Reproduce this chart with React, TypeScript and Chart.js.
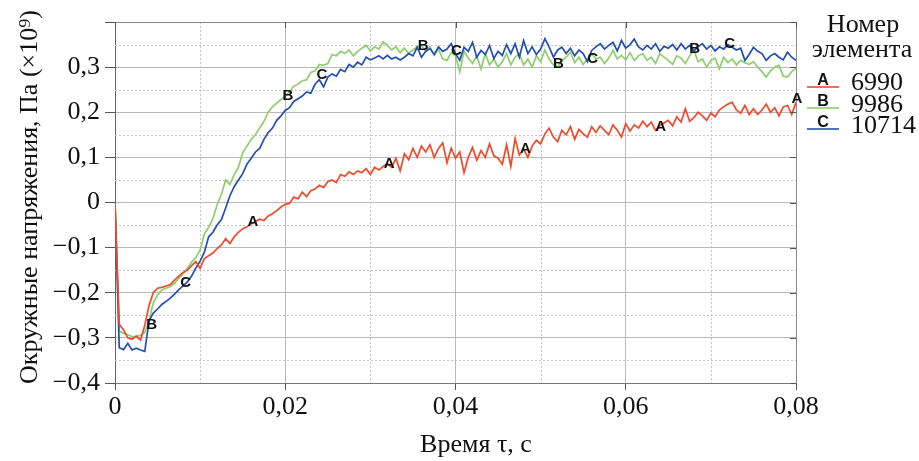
import { useEffect, useRef } from "react";
import { Chart, registerables } from "chart.js";

Chart.register(...registerables);

// ---- data ----
const TIME_STEP = 0.0005; // s, sampling step of the series below (t = 0 ... 0.08)

const ELEMENTS = ["6990", "9986", "10714"];
const LETTERS = ["A", "B", "C"];
const COLORS = ["#ef4a2c", "#8ccf6c", "#2350b0"];

const STRESS_6990 = [
  0, -0.27, -0.282, -0.3, -0.303, -0.296, -0.305, -0.272, -0.228, -0.2,
  -0.19, -0.188, -0.185, -0.182, -0.172, -0.163, -0.155, -0.15, -0.14, -0.131,
  -0.146, -0.124, -0.118, -0.112, -0.102, -0.094, -0.08, -0.091, -0.076, -0.066,
  -0.058, -0.054, -0.047, -0.042, -0.037, -0.04, -0.03, -0.025, -0.018, -0.01,
  -0.004, -0.002, 0.012, 0.008, 0.023, 0.013, 0.026, 0.03, 0.038, 0.033,
  0.046, 0.05, 0.044, 0.062, 0.058, 0.068, 0.062, 0.07, 0.066, 0.075,
  0.062, 0.078, 0.072, 0.08, 0.086, 0.078, 0.098, 0.07, 0.108, 0.095,
  0.12, 0.1, 0.125, 0.112, 0.128, 0.1, 0.12, 0.132, 0.088, 0.12,
  0.098, 0.112, 0.066, 0.1, 0.122, 0.094, 0.115, 0.1, 0.13, 0.104,
  0.098, 0.085, 0.128, 0.08, 0.142, 0.105, 0.118, 0.1, 0.125, 0.138,
  0.13, 0.152, 0.165, 0.145, 0.135, 0.16, 0.15, 0.168, 0.14, 0.162,
  0.152, 0.145, 0.168, 0.155, 0.17, 0.16, 0.15, 0.172, 0.16, 0.145,
  0.175, 0.158, 0.172, 0.165, 0.18, 0.168, 0.178, 0.16, 0.17, 0.176,
  0.182, 0.17, 0.19, 0.178, 0.208, 0.18, 0.188, 0.2, 0.192, 0.182,
  0.198, 0.19, 0.205, 0.212, 0.218, 0.222, 0.205, 0.198, 0.215, 0.195,
  0.208, 0.195, 0.205, 0.218, 0.2, 0.21, 0.192, 0.212, 0.215, 0.195,
  0.222,
];

const STRESS_9986 = [
  0, -0.285, -0.29, -0.293, -0.297, -0.297, -0.294, -0.288, -0.262, -0.222,
  -0.205, -0.194, -0.19, -0.186, -0.179, -0.168, -0.158, -0.146, -0.132, -0.122,
  -0.105, -0.07, -0.055, -0.036, -0.005, 0.018, 0.05, 0.04, 0.062, 0.078,
  0.11, 0.125, 0.14, 0.15, 0.165, 0.18, 0.2, 0.212, 0.22, 0.228,
  0.236, 0.245, 0.258, 0.262, 0.27, 0.272, 0.288, 0.292, 0.306, 0.304,
  0.308, 0.328, 0.325, 0.335, 0.33, 0.338, 0.325, 0.335, 0.342, 0.348,
  0.336, 0.345, 0.34, 0.356, 0.348, 0.338, 0.345, 0.332, 0.342, 0.33,
  0.338, 0.345, 0.348, 0.335, 0.345, 0.326, 0.34, 0.318, 0.315, 0.332,
  0.325, 0.29, 0.335, 0.32, 0.308, 0.325, 0.296, 0.33, 0.305, 0.318,
  0.3, 0.312, 0.33, 0.305, 0.322, 0.33, 0.305, 0.318, 0.3, 0.325,
  0.312, 0.338, 0.318, 0.305, 0.3, 0.315, 0.322, 0.333, 0.31, 0.322,
  0.306, 0.318, 0.33, 0.318, 0.322, 0.308, 0.32, 0.337, 0.318, 0.326,
  0.316, 0.332, 0.315, 0.325, 0.33, 0.315, 0.322, 0.308, 0.33, 0.322,
  0.315, 0.306, 0.325, 0.32, 0.308, 0.325, 0.338, 0.312, 0.318, 0.3,
  0.315, 0.32, 0.296, 0.322, 0.31, 0.318, 0.305, 0.315, 0.31, 0.306,
  0.312, 0.3, 0.29, 0.278, 0.292, 0.3, 0.304, 0.28, 0.278, 0.29,
  0.298,
];

const STRESS_10714 = [
  0, -0.322, -0.326, -0.312, -0.327, -0.323, -0.327, -0.33, -0.262, -0.245,
  -0.236, -0.226, -0.219, -0.212, -0.203, -0.193, -0.185, -0.176, -0.163, -0.145,
  -0.13, -0.11, -0.076, -0.066, -0.05, -0.038, -0.012, 0.015, 0.035, 0.05,
  0.064, 0.085, 0.098, 0.112, 0.12, 0.14, 0.155, 0.165, 0.182, 0.192,
  0.204, 0.21, 0.224, 0.23, 0.236, 0.245, 0.242, 0.262, 0.272, 0.256,
  0.278, 0.285, 0.28, 0.295, 0.29, 0.306, 0.3, 0.311, 0.305, 0.322,
  0.316, 0.32, 0.325, 0.318, 0.326, 0.318, 0.322, 0.316, 0.322, 0.33,
  0.325, 0.344, 0.322, 0.335, 0.341, 0.328, 0.345, 0.335, 0.34, 0.352,
  0.33, 0.315, 0.344, 0.335, 0.355, 0.322, 0.337, 0.328, 0.348, 0.319,
  0.335, 0.326, 0.35, 0.33, 0.352, 0.322, 0.359, 0.33, 0.345, 0.328,
  0.34, 0.363, 0.345, 0.322, 0.338, 0.344, 0.33, 0.342, 0.325, 0.338,
  0.33, 0.312, 0.337, 0.345, 0.352, 0.34, 0.348, 0.355, 0.336, 0.359,
  0.342, 0.35, 0.362, 0.345, 0.338, 0.348, 0.34, 0.352, 0.335, 0.346,
  0.342, 0.35, 0.338, 0.352, 0.34, 0.348, 0.336, 0.345, 0.352, 0.34,
  0.348, 0.336, 0.345, 0.34, 0.35, 0.344, 0.338, 0.342, 0.315, 0.328,
  0.344, 0.335, 0.33, 0.315, 0.325, 0.33, 0.322, 0.316, 0.333, 0.322,
  0.315,
];

// letter markers on the curves (time, value)
const MARK_A_T = [0.0162, 0.0322, 0.0482, 0.0641, 0.0801];
const MARK_A_V = [-0.043, 0.086, 0.119, 0.167, 0.23];
const MARK_B_T = [0.0043, 0.0203, 0.0362, 0.0521, 0.0681];
const MARK_B_V = [-0.271, 0.237, 0.348, 0.307, 0.341];
const MARK_C_T = [0.0083, 0.0243, 0.0401, 0.0561, 0.0722];
const MARK_C_V = [-0.178, 0.282, 0.337, 0.319, 0.352];

const X_MIN = 0;
const X_MAX = 0.08;
const X_MAJOR_STEP = 0.02;
const X_MINOR = [0.01, 0.03, 0.05, 0.07];
const Y_MIN = -0.4;
const Y_MAX = 0.4;
const Y_MAJOR_STEP = 0.1;
const Y_MINOR = [-0.35, -0.25, -0.15, -0.05, 0.05, 0.15, 0.25, 0.35];

const X_TITLE = "Время τ, с";
const Y_TITLE = "Окружные напряжения, Па (×10⁹)";
const LEGEND_TITLE = ["Номер", "элемента"];

const SERIF = '"Liberation Serif", "Times New Roman", "DejaVu Serif", serif';
const SANS = '"Liberation Sans", Arial, "DejaVu Sans", sans-serif';

const fmt = (v: number, digits: number) => {
  if (Math.abs(v) < 1e-9) return "0";
  const s = Math.abs(v).toFixed(digits).replace(".", ",");
  return v < 0 ? "\u2212" + s : s;
};

const toPoints = (vals: number[]) => vals.map((v, i) => ({ x: i * TIME_STEP, y: v }));

const decorPlugin = {
  id: "decor",
  beforeDatasetsDraw(chart: any) {
    const { ctx, chartArea: a, scales } = chart;
    const x = scales.x;
    const y = scales.y;
    ctx.save();
    ctx.strokeStyle = "#c4c4c4";
    ctx.lineWidth = 1;
    ctx.setLineDash([2, 2]);
    X_MINOR.forEach((v) => {
      const px = Math.round(x.getPixelForValue(v)) + 0.5;
      ctx.beginPath();
      ctx.moveTo(px, a.top);
      ctx.lineTo(px, a.bottom);
      ctx.stroke();
    });
    Y_MINOR.forEach((v) => {
      const py = Math.round(y.getPixelForValue(v)) + 0.5;
      ctx.beginPath();
      ctx.moveTo(a.left, py);
      ctx.lineTo(a.right, py);
      ctx.stroke();
    });
    ctx.restore();
  },
  afterDraw(chart: any) {
    const { ctx, chartArea: a, scales } = chart;
    const x = scales.x;
    const y = scales.y;
    ctx.save();
    // top and right frame
    ctx.strokeStyle = "#8a8a8a";
    ctx.lineWidth = 1;
    ctx.setLineDash([]);
    ctx.beginPath();
    ctx.moveTo(a.left, a.top + 0.5);
    ctx.lineTo(a.right + 0.5, a.top + 0.5);
    ctx.lineTo(a.right + 0.5, a.bottom);
    ctx.stroke();
    ctx.strokeStyle = "#555";
    for (let v = X_MIN; v <= X_MAX + 1e-9; v += X_MAJOR_STEP) {
      const px = Math.round(x.getPixelForValue(v)) + 0.5;
      ctx.beginPath();
      ctx.moveTo(px, a.top);
      ctx.lineTo(px, a.top + 6);
      ctx.stroke();
    }
    for (let v = Y_MIN; v <= Y_MAX + 1e-9; v += Y_MAJOR_STEP) {
      const py = Math.round(y.getPixelForValue(v)) + 0.5;
      ctx.beginPath();
      ctx.moveTo(a.right - 6, py);
      ctx.lineTo(a.right, py);
      ctx.stroke();
    }

    // letter markers
    ctx.fillStyle = "#111";
    ctx.font = `bold 15px ${SANS}`;
    ctx.textAlign = "center";
    ctx.textBaseline = "middle";
    const marks: [string, number[], number[]][] = [
      ["A", MARK_A_T, MARK_A_V],
      ["B", MARK_B_T, MARK_B_V],
      ["C", MARK_C_T, MARK_C_V],
    ];
    marks.forEach(([letter, ts, vs]) => {
      ts.forEach((t, i) => {
        ctx.fillText(letter, x.getPixelForValue(t), y.getPixelForValue(vs[i]));
      });
    });

    // axis titles
    ctx.fillStyle = "#111";
    ctx.font = `26px ${SERIF}`;
    ctx.textAlign = "center";
    ctx.textBaseline = "alphabetic";
    ctx.fillText(X_TITLE, a.left + 361, 452);
    ctx.save();
    ctx.translate(37, 197);
    ctx.rotate(-Math.PI / 2);
    ctx.fillText(Y_TITLE, 0, 0);
    ctx.restore();

    // legend
    const lx = a.right + 10;
    ctx.font = `26px ${SERIF}`;
    ctx.textAlign = "center";
    ctx.fillText(LEGEND_TITLE[0], 863, 32);
    ctx.fillText(LEGEND_TITLE[1], 862, 57);
    const rows = [87, 108, 129];
    ELEMENTS.forEach((name, i) => {
      const ry = rows[i];
      ctx.strokeStyle = COLORS[i];
      ctx.lineWidth = 1.6;
      ctx.beginPath();
      ctx.moveTo(lx + 1, ry);
      ctx.lineTo(lx + 33, ry);
      ctx.stroke();
      ctx.fillStyle = "#111";
      ctx.font = `bold 16px ${SANS}`;
      ctx.textAlign = "center";
      ctx.textBaseline = "alphabetic";
      ctx.fillText(LETTERS[i], lx + 17, ry - 2);
      ctx.font = `26px ${SERIF}`;
      ctx.textAlign = "left";
      ctx.fillText(name, 851, ry + 3 + (i === 0 ? 0 : 1));
    });
    ctx.restore();
  },
};

export default function App() {
  const canvasRef = useRef<HTMLCanvasElement | null>(null);

  useEffect(() => {
    const canvas = canvasRef.current;
    if (!canvas) return;
    const series = [STRESS_6990, STRESS_9986, STRESS_10714];
    const chart = new Chart(canvas, {
      type: "line",
      data: {
        datasets: series.map((vals, i) => ({
          label: ELEMENTS[i],
          data: toPoints(vals),
          borderColor: COLORS[i],
          backgroundColor: COLORS[i],
          borderWidth: 1.7,
          pointRadius: 0,
          tension: 0,
          fill: false,
          order: i === 0 ? 0 : i === 2 ? 1 : 2,
        })),
      },
      options: {
        animation: false,
        responsive: false,
        devicePixelRatio: 1,
        layout: { padding: { left: 0, right: 123, top: 22, bottom: 0 } },
        plugins: {
          legend: { display: false },
          tooltip: { enabled: false },
          title: { display: false },
        },
        scales: {
          x: {
            type: "linear",
            min: X_MIN,
            max: X_MAX,
            afterFit: (s: any) => {
              s.height = 78;
            },
            ticks: {
              stepSize: X_MAJOR_STEP,
              color: "#111",
              padding: 2,
              maxRotation: 0,
              font: { family: SERIF, size: 26 },
              callback: (v: any) => fmt(Number(v), 2),
            },
            grid: {
              color: "#b9b9b9",
              lineWidth: 1,
              tickLength: 7,
              tickColor: "#555",
            },
            border: { display: true, color: "#777", width: 1 },
          },
          y: {
            type: "linear",
            min: Y_MIN,
            max: Y_MAX,
            afterFit: (s: any) => {
              s.width = 115;
            },
            ticks: {
              stepSize: Y_MAJOR_STEP,
              color: "#111",
              padding: 5,
              font: { family: SERIF, size: 26 },
              callback: (v: any) => (Math.abs(Number(v) - Y_MAX) < 1e-9 ? "" : fmt(Number(v), 1)),
            },
            grid: {
              color: "#b9b9b9",
              lineWidth: 1,
              tickLength: 10,
              tickColor: "#555",
            },
            border: { display: true, color: "#666", width: 1 },
          },
        },
      },
      plugins: [decorPlugin],
    });
    return () => chart.destroy();
  }, []);

  return (
    <div style={{ position: "fixed", left: 0, top: 0, width: 919, height: 461, background: "#fff" }}>
      <canvas ref={canvasRef} width={919} height={461} style={{ width: 919, height: 461, display: "block" }} />
    </div>
  );
}
